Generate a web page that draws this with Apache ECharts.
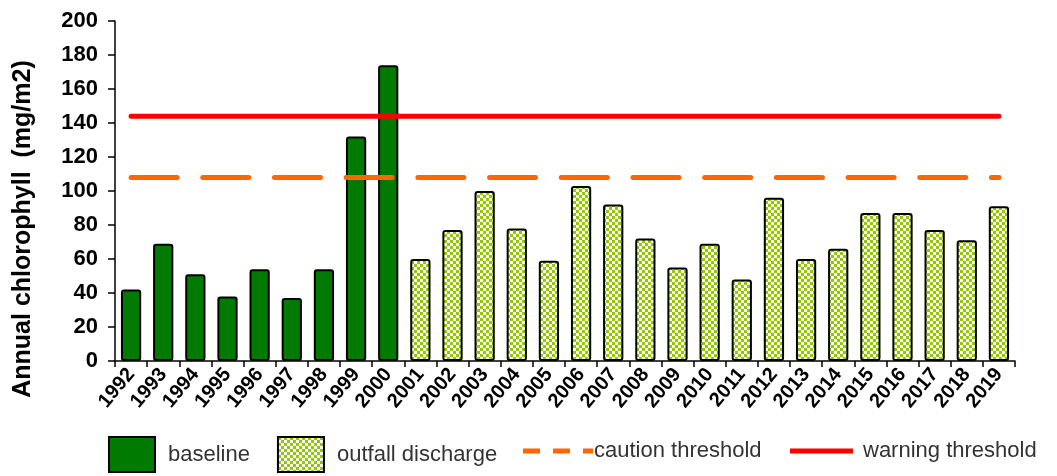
<!DOCTYPE html>
<html>
<head>
<meta charset="utf-8">
<script src="https://cdn.jsdelivr.net/npm/echarts@6/dist/echarts.min.js"></script>
<style>
html,body{margin:0;padding:0;background:#fff;}
#chart{width:1057px;height:476px;}
</style>
</head>
<body>
<div id="chart"></div>
<script>
const years = ['1992','1993','1994','1995','1996','1997','1998','1999','2000','2001','2002','2003','2004','2005','2006','2007','2008','2009','2010','2011','2012','2013','2014','2015','2016','2017','2018','2019'];
const baseline = [42,69,51,38,54,37,54,132,174,'-','-','-','-','-','-','-','-','-','-','-','-','-','-','-','-','-','-','-'];
const outfall = ['-','-','-','-','-','-','-','-','-',60,77,100,78,59,103,92,72,55,69,48,96,60,66,87,87,77,71,91];
const cautionThreshold = 108;
const warningThreshold = 144;
const yTicks = [0,20,40,60,80,100,120,140,160,180,200];

const cautionLine = years.map(() => cautionThreshold);
const warningLine = years.map(() => warningThreshold);

// checkered light-green pattern
const pc = document.createElement('canvas');
pc.width = 6; pc.height = 6;
const g = pc.getContext('2d');
g.fillStyle = '#ffffff'; g.fillRect(0,0,6,6);
g.fillStyle = '#92c800';
g.fillRect(0,0,3,3); g.fillRect(3,3,3,3);
const checker = {image: pc, repeat: 'repeat'};

const chart = echarts.init(document.getElementById('chart'), null, {renderer:'canvas'});
const font = '"Liberation Sans", Arial, sans-serif';
const legendText = {fontFamily: font, fontSize: 22, color: '#333'};
chart.setOption({
  animation: false,
  backgroundColor: '#ffffff',
  grid: {left: 115, right: 42, top: 21, bottom: 115, containLabel: false},
  graphic: [{
    type: 'text',
    x: 23, y: 229,
    rotation: Math.PI/2,
    style: {
      text: 'Annual chlorophyll  (mg/m2)',
      font: 'bold 25px ' + font,
      fill: '#000',
      align: 'center',
      verticalAlign: 'middle'
    }
  }],
  legend: [{
    data: ['baseline', 'outfall discharge'],
    left: 108, top: 436, padding: 0,
    itemWidth: 46, itemHeight: 35,
    itemGap: 27,
    icon: 'rect',
    itemStyle: {borderColor: '#000', borderWidth: 2},
    textStyle: Object.assign({padding: [0,0,0,8]}, legendText)
  }, {
    data: [{name: 'caution threshold',
            icon: 'path://M0,0h17v5h-17z M30,0h17v5h-17z M60,0h10v5h-10z',
            itemStyle: {color: '#ff6600', borderWidth: 0}}],
    left: 523, top: 440, padding: 0,
    itemWidth: 70, itemHeight: 5,
    symbolKeepAspect: false,
    textStyle: Object.assign({padding: [0,0,0,-4]}, legendText)
  }, {
    data: [{name: 'warning threshold', icon: 'rect', itemStyle: {color: '#ff0000', borderWidth: 0}}],
    left: 790, top: 440, padding: 0,
    itemWidth: 63, itemHeight: 5,
    textStyle: Object.assign({padding: [0,0,0,5]}, legendText)
  }],
  xAxis: {
    type: 'category',
    data: years,
    boundaryGap: true,
    axisLine: {lineStyle: {color: '#000', width: 1.5}},
    axisTick: {show: true, length: 6, lineStyle: {color: '#000', width: 1.5}},
    axisLabel: {rotate: 50, interval: 0, margin: 10, fontFamily: font, fontWeight: 'bold', fontSize: 20, color: '#000'},
    splitLine: {show: false}
  },
  yAxis: {
    type: 'value',
    min: 0, max: 200, interval: 20,
    axisLine: {show: true, lineStyle: {color: '#000', width: 1.5}},
    axisTick: {show: true, length: 7, lineStyle: {color: '#000', width: 1.5}},
    axisLabel: {margin: 17, fontFamily: font, fontWeight: 'bold', fontSize: 22, color: '#000',
      formatter: v => yTicks.includes(v) ? String(v) : ''},
    splitLine: {show: false}
  },
  series: [{
    name: 'baseline',
    type: 'bar',
    data: baseline,
    barWidth: '63%',
    barGap: '-100%',
    itemStyle: {color: '#007a00', borderColor: '#000', borderWidth: 2, borderRadius: 2}
  }, {
    name: 'outfall discharge',
    type: 'bar',
    data: outfall,
    barWidth: '63%',
    barGap: '-100%',
    itemStyle: {color: checker, borderColor: '#000', borderWidth: 2, borderRadius: 2}
  }, {
    name: 'caution threshold',
    type: 'line',
    data: cautionLine,
    symbol: 'none',
    z: 5,
    lineStyle: {color: '#ff6600', width: 5, type: [46, 25.7], cap: 'round'},
    itemStyle: {color: '#ff6600'}
  }, {
    name: 'warning threshold',
    type: 'line',
    data: warningLine,
    symbol: 'none',
    z: 6,
    lineStyle: {color: '#ff0000', width: 5, cap: 'round'},
    itemStyle: {color: '#ff0000'}
  }]
});
</script>
</body>
</html>
